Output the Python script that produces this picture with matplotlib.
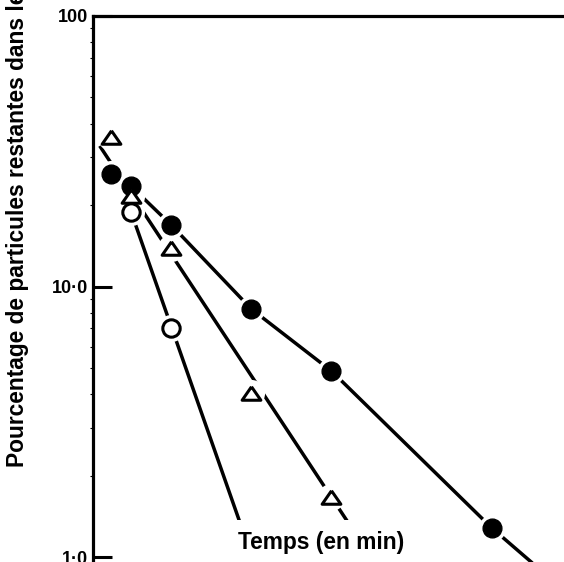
import matplotlib.pyplot as plt
import numpy as np
from matplotlib.ticker import FixedLocator, LogLocator, NullFormatter

# temps (min) et pourcentages
t_filled = [0.5, 1, 2, 4, 6, 10]
v_filled = [26.0, 23.5, 16.9, 8.26, 4.87, 1.28]

t_tri = [0.5, 1, 2, 4, 6]
v_tri = [35.7, 21.6, 13.9, 4.04, 1.67]

t_open = [1, 2]
v_open = [18.9, 7.03]

# droites tracees sur l'original
line_filled_t = [0.5, 1, 2, 4, 6, 10, 12]
line_filled_v = [26.0, 23.5, 16.9, 8.26, 4.87, 1.28, 0.71]
line_tri_t = [0.22, 7.7]
line_tri_v = [33.1, 0.69]
line_open_t = [1, 4.4]
line_open_v = [18.9, 0.69]

yticks = [1, 10, 100]
ytick_labels = ['1·0', '10·0', '100']

plt.rcParams['font.family'] = ['Liberation Sans', 'DejaVu Sans']
plt.rcParams['font.weight'] = 'bold'

fig = plt.figure(figsize=(5.64, 5.62), dpi=100)
ax = fig.add_axes([92.5 / 564, 0, 1 - 92.5 / 564, (562 - 16) / 562])

ax.set_yscale('log')
ax.set_xlim(0.04, 11.8)
ax.set_ylim(10 ** (-5 / 270.5), 100)

lw = 2.5
for lt, lv in [(line_filled_t, line_filled_v), (line_tri_t, line_tri_v), (line_open_t, line_open_v)]:
    ax.plot(lt, lv, color='black', lw=lw, solid_capstyle='butt', zorder=2)

# white halos so the lines stop short of the symbols
for t, v in [(t_filled, v_filled), (t_tri, v_tri), (t_open, v_open)]:
    ax.plot(t, v, ls='none', marker='o', ms=19.5, mfc='white', mec='none', zorder=3)

tri = [(0, 0.72), (-1, -0.72), (1, -0.72), (0, 0.72)]
ax.plot(t_filled, v_filled, ls='none', marker='o', ms=13.5, mfc='black', mec='black', zorder=4)
ax.plot(t_tri, v_tri, ls='none', marker=tri, ms=13.5, mfc='white', mec='black', mew=2.2, zorder=4)
ax.plot(t_open, v_open, ls='none', marker='o', ms=12.5, mfc='white', mec='black', mew=2.2, zorder=4)

ax.spines['right'].set_visible(False)
ax.spines['bottom'].set_visible(False)
ax.spines['top'].set_linewidth(2.3)
ax.spines['left'].set_linewidth(2.3)
ax.set_xticks([])

ax.yaxis.set_major_locator(FixedLocator(yticks))
ax.set_yticklabels(ytick_labels, fontsize=13, fontweight='bold')
ax.yaxis.set_minor_locator(LogLocator(base=10, subs=np.arange(2, 10)))
ax.yaxis.set_minor_formatter(NullFormatter())
ax.tick_params(axis='y', which='major', direction='in', length=14, width=2.2, pad=3)
ax.tick_params(axis='y', which='minor', direction='out', length=2, width=0.8)

fig.text(321 / 564, 1 - 542 / 562, 'Temps (en min)', ha='center', va='center',
         fontsize=16.4, fontweight='bold',
         bbox=dict(boxstyle='square,pad=0.45', fc='white', ec='none'))
fig.text(18 / 564, 1 - 467 / 562, 'Pourcentage de particules restantes dans les poumons',
         rotation=90, ha='center', va='bottom', fontsize=16.4, fontweight='bold')

fig.savefig('out.png', dpi=100)
